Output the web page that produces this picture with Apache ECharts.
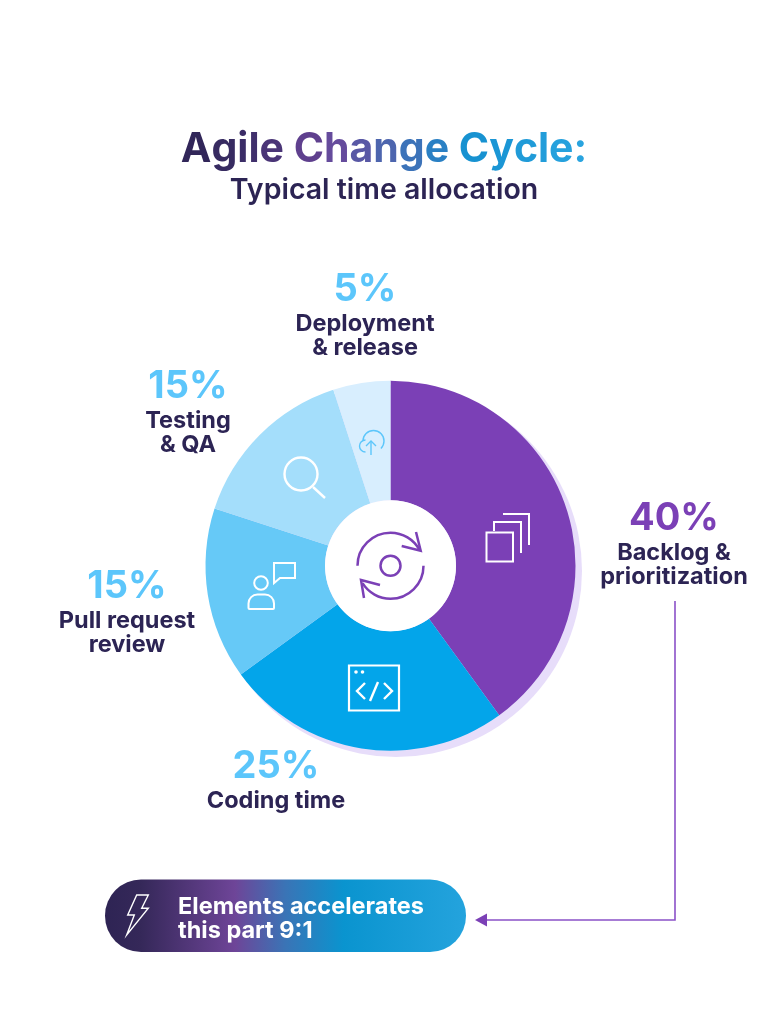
<!DOCTYPE html>
<html><head><meta charset="utf-8">
<style>html,body{margin:0;padding:0;background:#fff}#c{width:778px;height:1016px}</style>
<script src="https://cdn.jsdelivr.net/npm/echarts@6/dist/echarts.min.js"></script>
</head><body><div id="c"></div>
<script>
const categories = ['Backlog &\nprioritization','Coding time','Pull request\nreview','Testing\n& QA','Deployment\n& release'];
const shares = [40,25,15,15,5];
const sliceColors = ['#7B40B6','#03A5EA','#66C9F7','#A4DEFB','#D8EEFE'];
const titleText = 'Agile Change Cycle:';
const subtitleText = 'Typical time allocation';
const calloutText = 'Elements accelerates\nthis part 9:1';

const FONT = 'Inter';
const NAVY = '#2C2454', PURPLE = '#7B40B6', SKY = '#5CC6FB';
const labelAnchors = [[674,496],[276,744],[127,564],[188,364],[365,267]];

const chart = echarts.init(document.getElementById('c'), null, {renderer:'canvas'});

// title sweep: one colour per letter across the headline
const titleStops = [[0,[46,36,84]],[0.16,[60,46,104]],[0.36,[106,70,153]],[0.52,[74,104,176]],[0.7,[21,144,208]],[1,[42,165,224]]];
const sweep = t=>{
  let i = 0;
  while (i < titleStops.length-2 && t > titleStops[i+1][0]) i++;
  const a = titleStops[i], b = titleStops[i+1], f = (t-a[0])/(b[0]-a[0]);
  return `rgb(${a[1].map((v,k)=>Math.round(v+(b[1][k]-v)*f)).join(',')})`;
};
const TITLE_SIZE = 41;
const measure = document.createElement('canvas').getContext('2d');
measure.font = `700 ${TITLE_SIZE}px ${FONT}`;
const titleWidth = measure.measureText(titleText).width;
const titleRich = {};
let titleMarkup = '';
[...titleText].forEach((ch,i)=>{
  const mid = (measure.measureText(titleText.slice(0,i)).width + measure.measureText(ch).width/2)/titleWidth;
  titleRich['t'+i] = {fontFamily:FONT,fontSize:TITLE_SIZE,fontWeight:700,fill:sweep(mid)};
  titleMarkup += `{t${i}|${ch}}`;
});

const white = {stroke:'#fff',fill:'none',lineWidth:2};
const pur = {stroke:PURPLE,fill:'none',lineWidth:2.5};
const cloud = {stroke:SKY,fill:'none',lineWidth:1.4};
const line = (a,b,c,d,style,z=10)=>({type:'line',z,silent:true,shape:{x1:a,y1:b,x2:c,y2:d},style});
const poly = (points,style,z=10)=>({type:'polyline',z,silent:true,shape:{points},style});
const circle = (cx,cy,r,style,z=10)=>({type:'circle',z,silent:true,shape:{cx,cy,r},style});
const arc = (cx,cy,r,s,e,style)=>({type:'arc',z:10,silent:true,shape:{cx,cy,r,startAngle:s*Math.PI/180,endAngle:e*Math.PI/180,clockwise:true},style});

const elements = [
  circle(396,571,186,{fill:'#E7DDFA'},0),
  circle(390.5,565.7,65.5,{fill:'#fff'},5),
  // center cycle icon
  circle(390.5,565.7,10,pur),
  arc(390.5,565.7,33,180,332,pur),
  arc(390.5,565.7,33,0,148,pur),
  poly([[416,532],[420.7,550.7],[401.7,546]],pur),
  poly([[380,585],[361,580],[364,598]],pur),
  // stacked pages
  {type:'rect',z:10,silent:true,shape:{x:486.5,y:532.5,width:26.5,height:29},style:white},
  poly([[494,531],[494,522],[521,522],[521,553]],white),
  poly([[503,514],[529,514],[529,545]],white),
  // code window
  {type:'rect',z:10,silent:true,shape:{x:349,y:665.5,width:50,height:45},style:{stroke:'#fff',fill:'none',lineWidth:2.2}},
  circle(356,672,1.8,{fill:'#fff'}),
  circle(362.5,672,1.8,{fill:'#fff'}),
  poly([[365,683],[357,691],[365,699]],{...white,lineWidth:2.4}),
  poly([[384,683],[392,691],[384,699]],{...white,lineWidth:2.4}),
  line(378,682,370,701,{...white,lineWidth:2.4}),
  // person and speech bubble
  circle(261,583,6.8,white),
  {type:'rect',z:10,silent:true,shape:{x:248.5,y:594.5,width:25.5,height:14.5,r:[9,9,1,1]},style:white},
  {type:'polygon',z:10,silent:true,shape:{points:[[274,563],[295,563],[295,578],[280,578],[274,583]]},style:white},
  // magnifier
  circle(301,474,16.5,{...white,lineWidth:2.4}),
  line(313,487,325,498,{...white,lineWidth:2.4}),
  // cloud upload
  arc(373.5,441,10.5,180,45,cloud),
  arc(365.5,446,6,90,270,cloud),
  line(371,455,371,441,cloud),
  poly([[366,446],[371,441],[376,446]],cloud),
  // connector
  poly([[675,601],[675,920],[486,920]],{stroke:'#8B52C8',fill:'none',lineWidth:1.6}),
  {type:'polygon',z:10,silent:true,shape:{points:[[475,920],[487,913.5],[487,926.5]]},style:{fill:PURPLE}},
  // callout pill
  {type:'rect',z:6,silent:true,shape:{x:105,y:879.5,width:361,height:72.5,r:36},
   style:{fill:new echarts.graphic.LinearGradient(0,0,1,0,[
     {offset:0,color:'#2E2454'},{offset:0.1,color:'#352859'},{offset:0.36,color:'#6E4598'},
     {offset:0.5,color:'#3A74B6'},{offset:0.66,color:'#0A94CF'},{offset:1,color:'#24A3DD'}])}},
  {type:'polygon',z:10,silent:true,shape:{points:[[136.7,895],[148.3,895],[141.7,908.3],[148.3,908.3],[126.7,935],[134.3,915],[127.7,915]]},style:{stroke:'#fff',fill:'none',lineWidth:1.4}},
  {type:'text',z:10,silent:true,x:178,y:894.5,style:{text:calloutText,fill:'#fff',font:'700 23.5px '+FONT,lineHeight:24,textAlign:'left',textVerticalAlign:'top'}},
  // headings
  {type:'text',z:10,silent:true,x:384,y:150,style:{text:titleMarkup,rich:titleRich,textAlign:'center',textVerticalAlign:'middle'}},
  {type:'text',z:10,silent:true,x:384,y:190,style:{text:subtitleText,fill:NAVY,font:'600 28.5px '+FONT,textAlign:'center',textVerticalAlign:'middle'}}
];

chart.setOption({
  animation:false,
  backgroundColor:'#fff',
  graphic:{elements},
  series:[{
    type:'pie',
    z:2,
    center:[390.5,565.7],
    radius:[65.5,185],
    startAngle:90,
    clockwise:true,
    silent:true,
    emphasis:{disabled:true},
    data:categories.map((name,i)=>({name,value:shares[i],itemStyle:{color:sliceColors[i]}})),
    labelLine:{show:false},
    label:{
      show:true,position:'outside',
      formatter:p=>{
        const key = p.dataIndex===0?'pv':'p';
        return `{${key}|${p.value}%}\n`+p.name.split('\n').map(s=>`{n|${s}}`).join('\n');
      },
      rich:{
        p:{fontFamily:FONT,fontSize:38,fontWeight:700,color:SKY,lineHeight:45,align:'center'},
        pv:{fontFamily:FONT,fontSize:38,fontWeight:700,color:PURPLE,lineHeight:45,align:'center'},
        n:{fontFamily:FONT,fontSize:23.5,fontWeight:700,color:NAVY,lineHeight:24,align:'center'}
      }
    },
    labelLayout:p=>({x:labelAnchors[p.dataIndex][0],y:labelAnchors[p.dataIndex][1],align:'center',verticalAlign:'top'})
  }]
});
</script></body></html>
